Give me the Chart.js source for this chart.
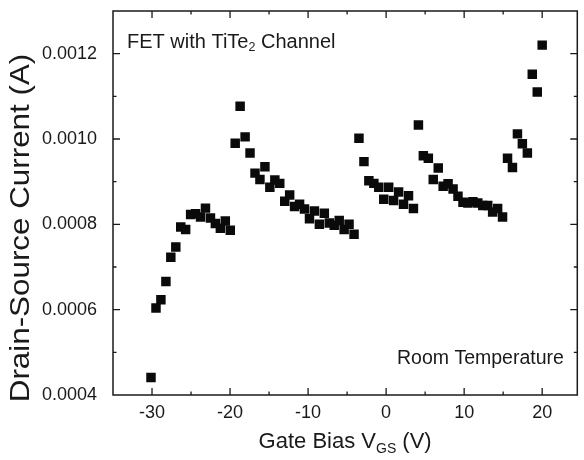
<!DOCTYPE html>
<html>
<head>
<meta charset="utf-8">
<script src="https://cdn.jsdelivr.net/npm/chart.js@4.4.0/dist/chart.umd.min.js"></script>
<style>
    html, body { margin: 0; padding: 0; background: #fff; }
    #wrap { width: 584px; height: 460px; }
</style>
</head>
<body>
<div id="wrap"><canvas id="fetChart" width="584" height="460"></canvas></div>
<script>
// gate bias sweep (V)
var gateBias = [
    -30.13, -29.49, -28.86, -28.22, -27.59, -26.95, -26.32, -25.69, -25.05, -24.42,
    -23.78, -23.15, -22.51, -21.88, -21.24, -20.61, -19.97,
    -19.34, -18.71, -18.07, -17.44, -16.80, -16.17, -15.53, -14.90, -14.26, -13.63,
    -12.99, -12.36, -11.73, -11.09, -10.46, -9.82, -9.19, -8.55, -7.92, -7.28,
    -6.65, -6.01, -5.38, -4.75, -4.11,
    -3.48, -2.84, -2.21, -1.57, -0.94, -0.30, 0.33, 0.96, 1.60, 2.23, 2.87, 3.50,
    4.14, 4.77, 5.41, 6.04, 6.68, 7.31, 7.94, 8.58, 9.21, 9.85, 10.48, 11.12,
    11.75, 12.39, 13.02, 13.65, 14.29, 14.92,
    15.56, 16.19, 16.83, 17.46, 18.10, 18.73, 19.37, 20.00
];
// drain-source current (A)
var drainCurrent = [
    0.000441, 0.000604, 0.000623, 0.000666, 0.000723, 0.000747, 0.000794, 0.000788, 0.000823, 0.000825,
    0.000817, 0.000838, 0.000815, 0.000802, 0.000791, 0.000808, 0.000786,
    0.000990, 0.001077, 0.001005, 0.000967, 0.000920, 0.000905, 0.000935, 0.000887, 0.000904, 0.000896,
    0.000854, 0.000869, 0.000842, 0.000847, 0.000836, 0.000813, 0.000831, 0.000800, 0.000826, 0.000803,
    0.000798, 0.000809, 0.000788, 0.000800, 0.000777,
    0.001002, 0.000947, 0.000902, 0.000896, 0.000887, 0.000859, 0.000887, 0.000856, 0.000876, 0.000847, 0.000867, 0.000837,
    0.001033, 0.000961, 0.000955, 0.000905, 0.000932, 0.000889, 0.000895, 0.000883, 0.000866, 0.000852, 0.000850, 0.000853,
    0.000850, 0.000844, 0.000844, 0.000829, 0.000837, 0.000817,
    0.000955, 0.000933, 0.001012, 0.000989, 0.000967, 0.001152, 0.001110, 0.001220
];
var xTicks = [-30, -20, -10, 0, 10, 20];
var yTicks = [0.0004, 0.0006, 0.0008, 0.0010, 0.0012];

var FONT = '"Liberation Sans", Arial, sans-serif';
var INK = '#1a1a1a';

// text with subscripts, parts = [[text, size, dy], ...]
function partsWidth(ctx, parts) {
    var w = 0;
    parts.forEach(function (p) {
        ctx.font = p[1] + 'px ' + FONT;
        w += ctx.measureText(p[0]).width;
    });
    return w;
}
function drawParts(ctx, parts, x, y) {
    parts.forEach(function (p) {
        ctx.font = p[1] + 'px ' + FONT;
        ctx.fillText(p[0], x, y + p[2]);
        x += ctx.measureText(p[0]).width;
    });
}

// frame, inward ticks, titles, labels
var framePlugin = {
    id: 'frame',
    afterDraw: function (chart) {
        var ctx = chart.ctx, a = chart.chartArea;
        var xs = chart.scales.x, ys = chart.scales.y;
        ctx.save();
        ctx.strokeStyle = INK;
        ctx.lineWidth = 1.5;
        ctx.strokeRect(a.left, a.top, a.right - a.left, a.bottom - a.top);

        ctx.lineWidth = 1.3;
        ctx.beginPath();
        for (var v = -35; v <= 25; v += 5) {
            var px = xs.getPixelForValue(v);
            if (px <= a.left + 1 || px >= a.right - 1) continue;
            var len = (v % 10 === 0) ? 7 : 3.5;
            ctx.moveTo(px, a.bottom); ctx.lineTo(px, a.bottom - len);
            ctx.moveTo(px, a.top); ctx.lineTo(px, a.top + len);
        }
        for (var k = 4; k <= 13; k++) {
            var py = ys.getPixelForValue(k / 10000);
            if (py >= a.bottom - 1 || py <= a.top + 1) continue;
            var l2 = (k % 2 === 0) ? 7 : 3.5;
            ctx.moveTo(a.left, py); ctx.lineTo(a.left + l2, py);
            ctx.moveTo(a.right, py); ctx.lineTo(a.right - l2, py);
        }
        ctx.stroke();

        ctx.fillStyle = INK;
        ctx.textBaseline = 'middle';
        ctx.textAlign = 'left';

        // x title
        var xt = [['Gate Bias V', 22, 0], ['GS', 14, 7], [' (V)', 22, 0]];
        var cx = (a.left + a.right) / 2;
        drawParts(ctx, xt, cx - partsWidth(ctx, xt) / 2, 442);

        // y title (slightly stretched along its length, as in the source figure)
        ctx.save();
        ctx.translate(21, 228);
        ctx.rotate(-Math.PI / 2);
        ctx.scale(1.12, 1);
        ctx.textAlign = 'center';
        ctx.font = '28px ' + FONT;
        ctx.fillText('Drain-Source Current (A)', 0, 0);
        ctx.restore();

        // in-plot labels
        drawParts(ctx, [['FET with TiTe', 20, 0], ['2', 12.5, 6], [' Channel', 20, 0]], 127, 42);
        drawParts(ctx, [['Room Temperature', 19.5, 0]], 397, 359);
        ctx.restore();
    }
};

var points = gateBias.map(function (x, i) {
    return {x: x, y: drainCurrent[i]};
});

var ctx = document.getElementById('fetChart').getContext('2d');
new Chart(ctx, {
    type: 'scatter',
    data: {
        datasets: [{
            label: 'Drain-Source Current',
            data: points,
            pointStyle: 'rect',
            pointRadius: 6.7,
            pointBorderWidth: 0,
            backgroundColor: '#0a0a0a',
            borderColor: '#0a0a0a'
        }]
    },
    options: {
        responsive: false,
        animation: false,
        layout: {padding: {top: 11, right: 1, left: 0, bottom: 0}},
        plugins: {legend: {display: false}, tooltip: {enabled: false}},
        scales: {
            x: {
                type: 'linear',
                min: -35,
                max: 24.5,
                grid: {display: false, drawTicks: false},
                border: {display: false},
                afterBuildTicks: function (s) {
                    s.ticks = xTicks.map(function (v) { return {value: v}; });
                },
                afterFit: function (s) {
                    s.height = 65;
                    s.paddingLeft = 0; s.paddingRight = 0;
                },
                ticks: {
                    padding: 7,
                    color: INK,
                    font: {family: FONT, size: 18},
                    maxRotation: 0,
                    callback: function (v) { return String(v); }
                }
            },
            y: {
                type: 'linear',
                min: 0.0004,
                max: 0.0013,
                grid: {display: false, drawTicks: false},
                border: {display: false},
                afterBuildTicks: function (s) {
                    s.ticks = yTicks.map(function (v) { return {value: v}; });
                },
                afterFit: function (s) {
                    s.width = 113;
                    s.paddingTop = 0; s.paddingBottom = 0;
                },
                ticks: {
                    padding: 16,
                    color: INK,
                    font: {family: FONT, size: 18},
                    callback: function (v) { return v.toFixed(4); }
                }
            }
        }
    },
    plugins: [framePlugin]
});
</script>
</body>
</html>
